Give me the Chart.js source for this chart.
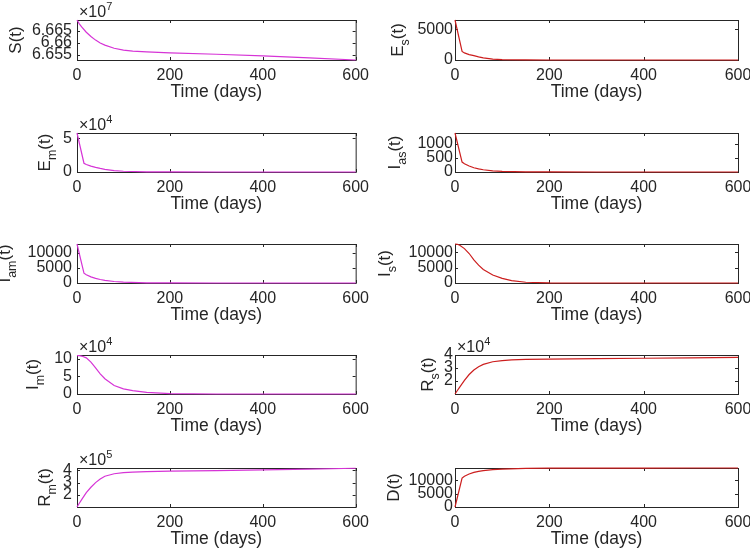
<!DOCTYPE html>
<html><head><meta charset="utf-8">
<script src="https://cdn.jsdelivr.net/npm/chart.js@4.4.0/dist/chart.umd.min.js"></script>
<style>
html,body{margin:0;padding:0;background:#fff;width:750px;height:553px;overflow:hidden;position:relative}
canvas{position:absolute}
</style></head><body>
<script>
// ---------- DATA ----------
const tA = [0, 15, 20, 30, 40, 50, 60, 80, 100, 150, 200, 300, 400, 500, 600];
const tB = [0, 5, 10, 20, 30, 40, 50, 60, 80, 100, 120, 150, 200, 300, 400, 500, 600];

const S_vals  = [66696000, 66680000, 66667000, 66645000, 66627000, 66612000, 66600000, 66591000, 66578000, 66570000, 66566000, 66563000, 66559000, 66553000, 66546000, 66538000, 66529000];
const Is_vals = [12700, 12600, 12300, 11200, 9600, 7500, 5800, 4400, 2600, 1500, 800, 250, 40, 0, 0, 0, 0];
const Im_vals = [108000, 108000, 107000, 102000, 90000, 74000, 57000, 43000, 24000, 14500, 9500, 4500, 1000, 0, 0, 0, 0];
const Rs_vals = [10000, 12700, 15300, 20500, 25000, 28500, 31000, 32800, 34800, 35700, 36200, 36600, 36900, 37200, 37500, 37800, 38200];
const Rm_vals = [100000, 131000, 160000, 218000, 262000, 300000, 330000, 352000, 373000, 382000, 386000, 390000, 394000, 399000, 404000, 411000, 418000];

const Es_vals  = [6500, 1400, 1150, 880, 700, 500, 360, 130, 60, 10, 2, 0, 0, 0, 0];
const Em_vals  = [58000, 13000, 11200, 8800, 6900, 5300, 4000, 2100, 1100, 250, 50, 0, 0, 0, 0];
const Ias_vals = [1370, 350, 290, 210, 150, 110, 80, 40, 20, 4, 1, 0, 0, 0, 0];
const Iam_vals = [12800, 3200, 2700, 2000, 1500, 1150, 850, 500, 280, 60, 10, 0, 0, 0, 0];
const D_vals   = [0, 10800, 11500, 12300, 12900, 13300, 13600, 13950, 14150, 14400, 14480, 14520, 14540, 14550, 14550];

const xTicks   = [0, 200, 400, 600];
const S_ticks  = [66550000, 66600000, 66650000];
const Es_ticks = [0, 5000];
const Em_ticks = [0, 50000];
const Ias_ticks = [0, 500, 1000];
const Iam_ticks = [0, 5000, 10000];
const Is_ticks = [0, 5000, 10000];
const Im_ticks = [0, 50000, 100000];
const Rs_ticks = [20000, 30000, 40000];
const Rm_ticks = [200000, 300000, 400000];
const D_ticks  = [0, 5000, 10000];
const xTitle = 'Time (days)';

// ---------- STYLE / LAYOUT ----------
const FONT = '"Liberation Sans", Arial, Helvetica, sans-serif';
const TXT = '#262626';
const MAG = 'rgb(214,52,214)';
const RED = 'rgb(204,30,30)';
const colLeft = [77, 455], colRight = [358, 738], canvasLeft = [0, 375], canvasW = [375, 400];
const yTickPad = [5, 2];
const rowTop = [20, 133, 244, 355, 468], rowBottom = [60, 172, 283, 394, 507];
const PADTOP = 20, XH = 43;

const panels = [
  {t:tB, y:S_vals,  min:66529000, max:66696000, ticks:S_ticks,  exp:7, lab:['S(t)','',''], col:0,row:0, color:MAG, lx:21},
  {t:tA, y:Es_vals, min:0, max:6500,  ticks:Es_ticks, exp:0, lab:['E','s','(t)'], col:1,row:0, color:RED, lx:403},
  {t:tA, y:Em_vals, min:0, max:58000, ticks:Em_ticks, exp:4, lab:['E','m','(t)'], col:0,row:1, color:MAG, lx:50},
  {t:tA, y:Ias_vals,min:0, max:1370,  ticks:Ias_ticks,exp:0, lab:['I','as','(t)'], col:1,row:1, color:RED, lx:400},
  {t:tA, y:Iam_vals,min:0, max:12800, ticks:Iam_ticks,exp:0, lab:['I','am','(t)'], col:0,row:2, color:MAG, lx:10},
  {t:tB, y:Is_vals, min:0, max:12700, ticks:Is_ticks, exp:0, lab:['I','s','(t)'], col:1,row:2, color:RED, lx:390},
  {t:tB, y:Im_vals, min:0, max:110000,ticks:Im_ticks, exp:4, lab:['I','m','(t)'], col:0,row:3, color:MAG, lx:38},
  {t:tB, y:Rs_vals, min:10000, max:40000, ticks:Rs_ticks, exp:4, lab:['R','s','(t)'], col:1,row:3, color:RED, lx:433},
  {t:tB, y:Rm_vals, min:100000, max:420000, ticks:Rm_ticks, exp:5, lab:['R','m','(t)'], col:0,row:4, color:MAG, lx:50},
  {t:tA, y:D_vals,  min:0, max:14550, ticks:D_ticks, exp:0, lab:['D(t)','',''], col:1,row:4, color:RED, lx:399}
];

function fmt(v, exp) {
  const s = v / Math.pow(10, exp);
  return String(parseFloat(s.toFixed(4)));
}

function makePlugin(p, cLeft) {
  return {
    id: 'matlabAxes',
    beforeDatasetsDraw(chart) {
      const {ctx, chartArea: a, scales} = chart;
      ctx.save();
      ctx.strokeStyle = TXT; ctx.lineWidth = 1;
      ctx.strokeRect(a.left + 0.5, a.top + 0.5, a.right - a.left, a.bottom - a.top);
      ctx.beginPath();
      const tl = 3;
      xTicks.forEach(v => {
        const px = Math.round(scales.x.getPixelForValue(v)) + 0.5;
        ctx.moveTo(px, a.top); ctx.lineTo(px, a.top + tl);
        ctx.moveTo(px, a.bottom); ctx.lineTo(px, a.bottom - tl);
      });
      p.ticks.forEach(v => {
        const py = Math.round(scales.y.getPixelForValue(v)) + 0.5;
        ctx.moveTo(a.left, py); ctx.lineTo(a.left + tl, py);
        ctx.moveTo(a.right, py); ctx.lineTo(a.right - tl, py);
      });
      ctx.stroke();
      ctx.restore();
    },
    afterDraw(chart) {
      const {ctx, chartArea: a} = chart;
      ctx.save();
      ctx.fillStyle = TXT;
      const big = '17px ' + FONT, small = '12.5px ' + FONT;
      ctx.translate(p.lx - cLeft, (a.top + a.bottom) / 2);
      ctx.rotate(-Math.PI / 2);
      ctx.textBaseline = 'alphabetic'; ctx.textAlign = 'left';
      ctx.font = big;
      const w1 = ctx.measureText(p.lab[0]).width;
      const w3 = p.lab[2] ? ctx.measureText(p.lab[2]).width : 0;
      ctx.font = small;
      const w2 = p.lab[1] ? ctx.measureText(p.lab[1]).width : 0;
      let u = -(w1 + w2 + w3) / 2;
      ctx.font = big; ctx.fillText(p.lab[0], u, 0); u += w1;
      if (p.lab[1]) { ctx.font = small; ctx.fillText(p.lab[1], u, 6); u += w2; }
      if (p.lab[2]) { ctx.font = big; ctx.fillText(p.lab[2], u, 0); }
      ctx.restore();
      if (p.exp) {
        ctx.save();
        ctx.fillStyle = TXT; ctx.textBaseline = 'alphabetic'; ctx.textAlign = 'left';
        ctx.font = '16px ' + FONT;
        const base = '\u00D710';
        ctx.fillText(base, a.left + 2, a.top - 3);
        const wb = ctx.measureText(base).width;
        ctx.font = '11px ' + FONT;
        ctx.fillText(String(p.exp), a.left + 2 + wb, a.top - 10);
        ctx.restore();
      }
    }
  };
}

panels.forEach(p => {
  const c = p.col, r = p.row;
  const cv = document.createElement('canvas');
  const w = canvasW[c];
  const h = (rowBottom[r] - rowTop[r]) + PADTOP + XH;
  cv.width = w; cv.height = h;
  cv.style.left = canvasLeft[c] + 'px';
  cv.style.top = (rowTop[r] - PADTOP) + 'px';
  cv.style.width = w + 'px'; cv.style.height = h + 'px';
  document.body.appendChild(cv);
  const yW = colLeft[c] - canvasLeft[c];
  const padRight = w - (colRight[c] - canvasLeft[c]);
  new Chart(cv.getContext('2d'), {
    type: 'line',
    data: {
      datasets: [{
        data: p.t.map((t, i) => ({x: t, y: p.y[i]})),
        borderColor: p.color, borderWidth: 1.2, pointRadius: 0, tension: 0, fill: false, clip: false
      }]
    },
    options: {
      responsive: false, animation: false, devicePixelRatio: 1,
      layout: {padding: {top: PADTOP, right: padRight, left: 0, bottom: 0}},
      plugins: {legend: {display: false}, tooltip: {enabled: false}},
      events: [],
      scales: {
        x: {
          type: 'linear', min: 0, max: 600,
          afterBuildTicks: s => { s.ticks = xTicks.map(v => ({value: v})); },
          afterFit: s => { s.height = XH; },
          grid: {display: false, drawTicks: false},
          border: {display: false},
          ticks: {color: TXT, font: {family: FONT, size: 16}, padding: 6, maxRotation: 0, autoSkip: false,
                  callback: v => String(v)},
          title: {display: true, text: xTitle, color: TXT, font: {family: FONT, size: 17.5}, padding: {top: 0, bottom: 0}}
        },
        y: {
          type: 'linear', min: p.min, max: p.max,
          afterBuildTicks: s => { s.ticks = p.ticks.map(v => ({value: v})); },
          afterFit: s => { s.width = yW; },
          grid: {display: false, drawTicks: false},
          border: {display: false},
          ticks: {color: TXT, font: {family: FONT, size: 16}, padding: yTickPad[c], autoSkip: false,
                  callback: v => fmt(v, p.exp)}
        }
      }
    },
    plugins: [makePlugin(p, canvasLeft[c])]
  });
});
</script>
</body></html>
